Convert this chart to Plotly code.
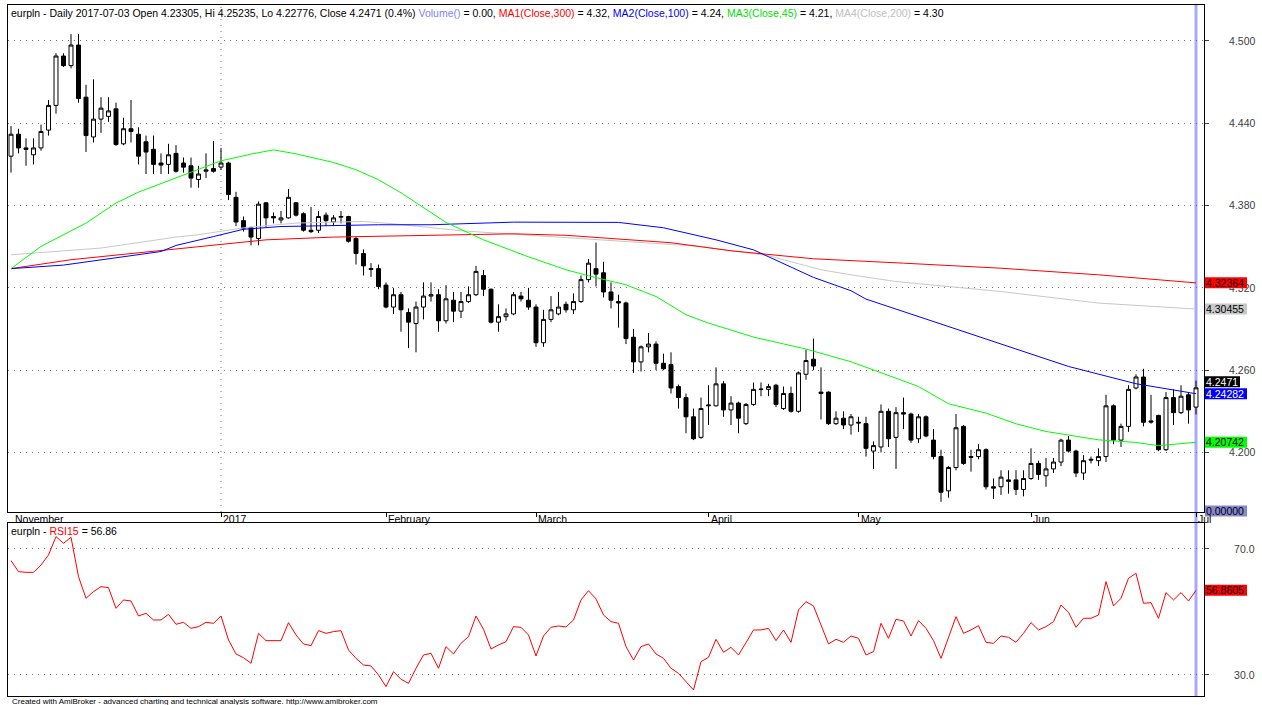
import plotly.graph_objects as go
import pandas as pd

# ---------------- data ----------------
ticker = "eurpln"
dates = pd.bdate_range("2016-11-23", "2017-07-03")

opens = [4.416,4.432,4.422,4.417,4.422,4.435,4.453,4.489,4.482,4.497,
 4.459,4.430,4.443,4.445,4.4505,4.425,4.436,4.432,4.4265,4.421,
 4.411,4.410,4.418,4.411,4.409,4.399,4.405,4.407,4.408,4.411,
 4.386,4.369,4.364,4.356,4.382,4.372,4.3695,4.371,4.382,4.374,
 4.362,4.362,4.373,4.368,4.3715,4.372,4.356,4.345,4.334,4.334,
 4.322,4.306,4.315,4.302,4.294,4.306,4.314,4.315,4.296,4.311,
 4.303,4.310,4.315,4.329,4.319,4.295,4.299,4.301,4.314,4.311,
 4.306,4.280,4.297,4.301,4.308,4.304,4.310,4.326,4.334,4.331,
 4.317,4.310,4.309,4.284,4.266,4.277,4.279,4.265,4.264,4.248,
 4.240,4.226,4.211,4.234,4.234,4.250,4.231,4.236,4.221,4.235,
 4.2462,4.246,4.249,4.232,4.243,4.230,4.257,4.268,4.244,4.244,
 4.221,4.225,4.220,4.222,4.221,4.201,4.204,4.230,4.211,4.229,
 4.228,4.210,4.226,4.209,4.197,4.172,4.189,4.219,4.197,4.197,
 4.202,4.175,4.175,4.180,4.180,4.173,4.181,4.192,4.183,4.188,
 4.193,4.209,4.201,4.185,4.195,4.194,4.197,4.234,4.209,4.219,
 4.247,4.255,4.223,4.227,4.202,4.240,4.229,4.242,4.23305]

highs = [4.438,4.436,4.429,4.429,4.439,4.457,4.491,4.491,4.505,4.505,
 4.468,4.472,4.459,4.459,4.455,4.444,4.457,4.437,4.431,4.431,
 4.418,4.425,4.424,4.415,4.415,4.409,4.418,4.427,4.422,4.412,
 4.390,4.372,4.3645,4.383,4.3825,4.375,4.376,4.392,4.3825,4.375,
 4.379,4.376,4.375,4.373,4.376,4.3725,4.357,4.348,4.338,4.337,
 4.324,4.320,4.317,4.305,4.310,4.324,4.324,4.319,4.322,4.317,
 4.317,4.321,4.336,4.333,4.3195,4.308,4.305,4.317,4.317,4.320,
 4.308,4.304,4.314,4.317,4.310,4.316,4.329,4.341,4.353,4.339,
 4.324,4.315,4.310,4.290,4.278,4.287,4.281,4.272,4.273,4.2495,
 4.243,4.232,4.240,4.249,4.262,4.252,4.241,4.237,4.236,4.251,
 4.251,4.250,4.250,4.248,4.248,4.259,4.275,4.283,4.262,4.2445,
 4.230,4.230,4.228,4.226,4.226,4.208,4.235,4.232,4.233,4.240,
 4.229,4.228,4.227,4.217,4.202,4.190,4.228,4.220,4.202,4.206,
 4.203,4.181,4.187,4.187,4.187,4.187,4.203,4.194,4.196,4.196,
 4.210,4.212,4.202,4.198,4.197,4.203,4.242,4.235,4.221,4.249,
 4.257,4.261,4.242,4.2275,4.244,4.246,4.249,4.244,4.25235]

lows = [4.404,4.418,4.409,4.410,4.420,4.431,4.447,4.481,4.480,4.455,
 4.419,4.426,4.433,4.441,4.4235,4.424,4.426,4.410,4.403,4.403,
 4.403,4.403,4.404,4.404,4.393,4.393,4.400,4.404,4.406,4.384,
 4.365,4.361,4.351,4.351,4.364,4.367,4.367,4.3705,4.372,4.361,
 4.360,4.360,4.365,4.365,4.367,4.353,4.337,4.329,4.328,4.319,
 4.305,4.301,4.288,4.276,4.273,4.297,4.310,4.288,4.294,4.295,
 4.298,4.309,4.314,4.314,4.294,4.288,4.296,4.300,4.310,4.304,
 4.277,4.277,4.295,4.300,4.302,4.301,4.309,4.324,4.321,4.313,
 4.305,4.291,4.279,4.258,4.259,4.273,4.260,4.260,4.243,4.232,
 4.214,4.209,4.210,4.220,4.2335,4.226,4.220,4.214,4.220,4.234,
 4.241,4.241,4.233,4.231,4.229,4.229,4.253,4.260,4.224,4.220,
 4.220,4.217,4.213,4.215,4.197,4.188,4.200,4.204,4.188,4.217,
 4.207,4.207,4.211,4.195,4.164,4.167,4.187,4.191,4.186,4.195,
 4.173,4.166,4.169,4.170,4.169,4.168,4.180,4.180,4.175,4.185,
 4.190,4.200,4.182,4.180,4.192,4.190,4.193,4.206,4.204,4.215,
 4.246,4.219,4.221,4.201,4.201,4.220,4.228,4.221,4.22776]

closes = [4.432,4.422,4.421,4.422,4.434,4.453,4.489,4.482,4.497,4.458,
 4.431,4.443,4.451,4.449,4.4245,4.436,4.434,4.416,4.419,4.410,
 4.4095,4.417,4.405,4.408,4.400,4.403,4.406,4.405,4.411,4.388,
 4.368,4.3635,4.357,4.381,4.371,4.371,4.371,4.386,4.373,4.362,
 4.361,4.372,4.369,4.371,4.372,4.354,4.345,4.336,4.3335,4.321,
 4.306,4.315,4.304,4.295,4.306,4.314,4.315,4.296,4.312,4.303,
 4.310,4.315,4.332,4.319,4.295,4.299,4.301,4.315,4.312,4.306,
 4.280,4.297,4.304,4.306,4.304,4.310,4.326,4.338,4.330,4.317,
 4.311,4.309,4.283,4.266,4.277,4.279,4.265,4.261,4.247,4.240,
 4.226,4.210,4.232,4.2345,4.250,4.231,4.236,4.225,4.235,4.246,
 4.246,4.248,4.235,4.243,4.230,4.258,4.267,4.263,4.243,4.221,
 4.225,4.220,4.226,4.2215,4.203,4.205,4.230,4.210,4.229,4.228,
 4.209,4.226,4.212,4.197,4.171,4.189,4.218,4.192,4.1965,4.202,
 4.175,4.174,4.182,4.179,4.173,4.181,4.192,4.184,4.188,4.193,
 4.209,4.201,4.185,4.194,4.1945,4.197,4.234,4.209,4.219,4.246,
 4.255,4.222,4.2222,4.202,4.240,4.229,4.241,4.231,4.2471]

rsi15 = [66.30,62.80,62.59,62.59,64.92,68.10,73.92,71.80,73.71,61.22,
 54.34,56.46,58.04,57.72,51.16,53.81,53.49,48.73,49.58,47.46,
 47.46,49.26,46.09,46.72,44.81,45.34,46.72,46.40,48.73,41.11,
 36.67,35.50,33.71,43.23,40.90,40.90,40.90,46.61,42.70,39.84,
 39.31,44.07,43.23,43.76,44.07,37.94,35.29,33.17,32.86,30.00,
 26.30,31.06,28.63,27.36,32.12,36.35,36.88,32.12,39.00,36.67,
 40.05,42.17,48.73,44.50,38.26,39.52,40.58,45.34,45.13,42.70,
 36.03,42.38,45.13,45.56,45.24,47.46,53.81,56.77,54.13,49.05,
 46.93,46.40,39.00,34.76,39.00,39.84,36.67,35.29,32.12,30.53,
 27.88,25.24,34.23,35.61,41.32,37.20,38.79,36.35,40.27,44.29,
 44.29,44.81,40.90,44.29,40.37,50.64,53.28,51.91,45.87,39.84,
 41.32,40.37,42.38,41.64,36.35,37.41,46.40,41.64,47.67,47.14,
 42.38,47.25,44.81,40.90,35.29,41.64,48.52,43.23,44.29,45.66,
 40.37,40.05,42.38,41.96,40.37,43.23,46.61,44.29,45.34,46.93,
 52.22,49.89,45.13,48.00,48.00,49.05,59.63,51.91,54.34,60.69,
 62.28,52.75,52.96,48.00,56.14,53.81,56.14,53.49,56.8605]

# moving averages, read at sampled bars (bar number -> value)
ma1_bar = [0, 8, 16, 25, 34, 43, 54, 62, 67, 74, 79, 88, 96, 107, 119, 132, 145, 158]
ma1_val = [4.334, 4.3405, 4.345, 4.350, 4.355, 4.357, 4.358, 4.359, 4.3594, 4.3583,
           4.3565, 4.3529, 4.347, 4.3412, 4.338, 4.3343, 4.3295, 4.32364]
ma2_bar = [0, 7, 20, 22, 27, 31, 36, 49, 56, 67, 81, 87, 94, 99, 107, 112, 114, 123, 132, 141, 150, 158]
ma2_val = [4.334, 4.3366, 4.3465, 4.3509, 4.3574, 4.3627, 4.3647, 4.366, 4.366, 4.3679,
           4.3677, 4.3638, 4.355, 4.3477, 4.3276, 4.3179, 4.3118, 4.2955, 4.279, 4.2627,
           4.2501, 4.24282]
ma3_bar = [0, 4, 10, 14, 17, 23, 28, 32, 35, 38, 43, 46, 49, 52, 54, 58, 63, 69, 74, 77,
           82, 86, 90, 93, 99, 106, 112, 116, 121, 125, 130, 134, 138, 145, 150, 153, 158]
ma3_val = [4.334, 4.3502, 4.3672, 4.3818, 4.3898, 4.4024, 4.4126, 4.4175, 4.4206, 4.4177,
           4.4114, 4.4061, 4.3988, 4.3893, 4.382, 4.3677, 4.355, 4.3426, 4.3332, 4.3288,
           4.3222, 4.3137, 4.3004, 4.2943, 4.2841, 4.2754, 4.2661, 4.2583, 4.2481, 4.2355,
           4.2287, 4.2209, 4.2153, 4.2092, 4.2073, 4.2049, 4.20742]
ma4_bar = [0, 12, 22, 25, 31, 38, 47, 51, 60, 65, 69, 78, 92, 101, 108, 112, 118, 132, 145, 158]
ma4_val = [4.3441, 4.349, 4.357, 4.3587, 4.3638, 4.3672, 4.3684, 4.3667, 4.3616, 4.3599,
           4.3582, 4.3554, 4.3502, 4.3434, 4.3332, 4.3295, 4.3246, 4.3173, 4.3089, 4.30455]
volume_last = 0.0

month_starts = ["2016-11-23", "2017-01-02", "2017-02-01", "2017-03-01",
                "2017-04-03", "2017-05-01", "2017-06-01", "2017-07-03"]
month_labels = ["November", "2017", "February", "March", "April", "May", "Jun", "Jul"]
price_ticks = [4.200, 4.260, 4.320, 4.380, 4.440, 4.500]
rsi_ticks = [30, 70]

# ---------------- layout constants ----------------
FONT = "Liberation Sans, Arial, sans-serif"
W, H = 1262, 705
ML, MR, MT, MB = 8, 58, 5, 9
main_dom = [0.2663, 1.0]
rsi_dom = [0.0, 0.2504]
main_rng = [4.1566, 4.5262]
rsi_rng = [23.33, 78.25]
x_rng = [-0.4, 159.067]

bars = list(range(len(dates)))
date_pos = {d.strftime("%Y-%m-%d"): i for i, d in enumerate(dates)}
month_pos = [date_pos[m] for m in month_starts]


def paper_y(v, dom, rng):
    return dom[0] + (v - rng[0]) / (rng[1] - rng[0]) * (dom[1] - dom[0])


fig = go.Figure()

fig.add_trace(go.Candlestick(
    x=bars, open=opens, high=highs, low=lows, close=closes,
    increasing=dict(line=dict(color="#000000", width=1), fillcolor="#ffffff"),
    decreasing=dict(line=dict(color="#000000", width=1), fillcolor="#000000"),
    whiskerwidth=0, hoverinfo="skip", showlegend=False,
    xaxis="x", yaxis="y"))

for b, v, c in [(ma4_bar, ma4_val, "#c8c8c8"), (ma1_bar, ma1_val, "#ff0000"),
                (ma2_bar, ma2_val, "#0000ff"), (ma3_bar, ma3_val, "#00ff00")]:
    fig.add_trace(go.Scatter(x=b, y=v, mode="lines", line=dict(color=c, width=1),
                             hoverinfo="skip", showlegend=False, xaxis="x", yaxis="y"))

fig.add_trace(go.Scatter(x=bars, y=rsi15, mode="lines", line=dict(color="#ff0000", width=1),
                         hoverinfo="skip", showlegend=False, xaxis="x2", yaxis="y2"))

grid = dict(showgrid=True, gridcolor="#707070", griddash="1px,5px", gridwidth=1)
yax_common = dict(side="right", ticks="outside", ticklen=4, tickcolor="#404040",
                  tickfont=dict(family=FONT, size=10.5, color="#404040"),
                  showline=True, mirror=True, linecolor="#000000", linewidth=1,
                  zeroline=False, fixedrange=True, automargin=False)

fig.update_layout(
    width=W, height=H, autosize=False,
    margin=dict(l=ML, r=MR, t=MT, b=MB, autoexpand=False),
    paper_bgcolor="#ffffff", plot_bgcolor="#ffffff",
    showlegend=False, hovermode=False,
    font=dict(family=FONT, size=10.5, color="#000000"),
    xaxis=dict(domain=[0, 1], anchor="y", range=x_rng, rangeslider=dict(visible=False),
               tickvals=month_pos[1:], ticks="outside", ticklen=4, tickcolor="#000000",
               showticklabels=False, showgrid=False, zeroline=False, automargin=False,
               showline=True, mirror=True, linecolor="#000000", linewidth=1),
    xaxis2=dict(domain=[0, 1], anchor="y2", range=x_rng, matches="x",
                showticklabels=False, ticks="", showgrid=False, zeroline=False,
                automargin=False,
                showline=True, mirror=True, linecolor="#000000", linewidth=1),
    yaxis=dict(domain=main_dom, range=main_rng, tickvals=price_ticks,
               ticktext=[f"{t:.3f}" for t in price_ticks], ticklabelstandoff=18,
               **grid, **yax_common),
    yaxis2=dict(domain=rsi_dom, range=rsi_rng, tickvals=rsi_ticks,
                ticktext=[f"{t:.1f}" for t in rsi_ticks], ticklabelstandoff=23,
                **grid, **yax_common),
    boxgap=0.25,
)

shapes = []
# year separator (dotted vertical) in price pane
shapes.append(dict(type="line", xref="x", yref="paper", x0=month_pos[1], x1=month_pos[1],
                   y0=main_dom[0], y1=main_dom[1],
                   line=dict(color="#707070", width=1, dash="1px,5px"), layer="below"))
# selected bar cursor line
shapes.append(dict(type="line", xref="x", yref="paper", x0=bars[-1], x1=bars[-1],
                   y0=0, y1=1, line=dict(color="#a8a8ff", width=3), layer="below"))

annotations = []

# title lines
pct = (closes[-1] - closes[-2]) / closes[-2] * 100
title = (f"{ticker} - Daily {dates[-1].strftime('%Y-%m-%d')} Open {opens[-1]}, Hi {highs[-1]}, "
         f"Lo {lows[-1]}, Close {closes[-1]} ({pct:.1f}%) "
         f"<span style='color:#8080ff'>Volume()</span> = {volume_last:.2f}, "
         f"<span style='color:#ff0000'>MA1(Close,300)</span> = {ma1_val[-1]:.2f}, "
         f"<span style='color:#0000ff'>MA2(Close,100)</span> = {ma2_val[-1]:.2f}, "
         f"<span style='color:#00e000'>MA3(Close,45)</span> = {ma3_val[-1]:.2f}, "
         f"<span style='color:#c0c0c0'>MA4(Close,200)</span> = {ma4_val[-1]:.2f}")
annotations.append(dict(xref="paper", yref="paper", x=0, y=1, xanchor="left", yanchor="top",
                        xshift=1, yshift=0, text=title, showarrow=False,
                        font=dict(family=FONT, size=10.5, color="#000000")))
annotations.append(dict(xref="paper", yref="paper", x=0, y=rsi_dom[1], xanchor="left",
                        yanchor="top", xshift=1, yshift=0, showarrow=False,
                        text=f"{ticker} - <span style='color:#ff0000'>RSI15</span> = {rsi15[-1]:.2f}",
                        font=dict(family=FONT, size=10.5, color="#000000")))

# month labels
for p, lab in zip(month_pos, month_labels):
    annotations.append(dict(xref="x", yref="paper", x=p, y=main_dom[0], xanchor="left",
                            yanchor="top", xshift=2 if p == 0 else 0, yshift=1, text=lab,
                            showarrow=False, font=dict(family=FONT, size=10.5, color="#000000")))

# footer
annotations.append(dict(xref="paper", yref="paper", x=0, y=0, xanchor="left", yanchor="top",
                        xshift=2, yshift=1, showarrow=False,
                        text="Created with AmiBroker - advanced charting and technical analysis software. http://www.amibroker.com",
                        font=dict(family=FONT, size=8, color="#000000")))

# right-hand value boxes
value_boxes = [
    (paper_y(ma1_val[-1], main_dom, main_rng), f"{ma1_val[-1]:.5f}", "#ff0000", "#000000", 0, 42),
    (paper_y(ma4_val[-1], main_dom, main_rng), f"{ma4_val[-1]:.5f}", "#c8c8c8", "#000000", 0, 42),
    (paper_y(closes[-1], main_dom, main_rng), f"{closes[-1]}", "#000000", "#ffffff", 6, 35),
    (paper_y(ma2_val[-1], main_dom, main_rng), f"{ma2_val[-1]:.5f}", "#0000ff", "#ffffff", 0, 42),
    (paper_y(ma3_val[-1], main_dom, main_rng), f"{ma3_val[-1]:.5f}", "#00ff00", "#000000", 0, 42),
    (main_dom[0], f"{volume_last:.5f}", "#8888cc", "#000000", 1, 42),
    (paper_y(rsi15[-1], rsi_dom, rsi_rng), f"{rsi15[-1]:.4f}", "#ff0000", "#000000", 0, 42),
]
for yp, txt, bg, fg, shift, wbox in value_boxes:
    shapes.append(dict(type="rect", xref="paper", yref="paper", xsizemode="pixel",
                       ysizemode="pixel", xanchor=1, yanchor=yp, x0=1, x1=1 + wbox,
                       y0=-5.5 + shift, y1=5.5 + shift, fillcolor=bg,
                       line=dict(width=0), layer="above"))
    annotations.append(dict(xref="paper", yref="paper", x=1, y=yp, xanchor="left",
                            yanchor="middle", xshift=1, yshift=shift, text=txt,
                            showarrow=False, borderpad=0,
                            font=dict(family=FONT, size=10.5, color=fg)))

fig.update_layout(shapes=shapes, annotations=annotations)

fig.write_html("out.html",
               config={"displayModeBar": False, "staticPlot": True},
               post_script="document.body.style.margin='0';document.body.style.overflow='hidden';")
